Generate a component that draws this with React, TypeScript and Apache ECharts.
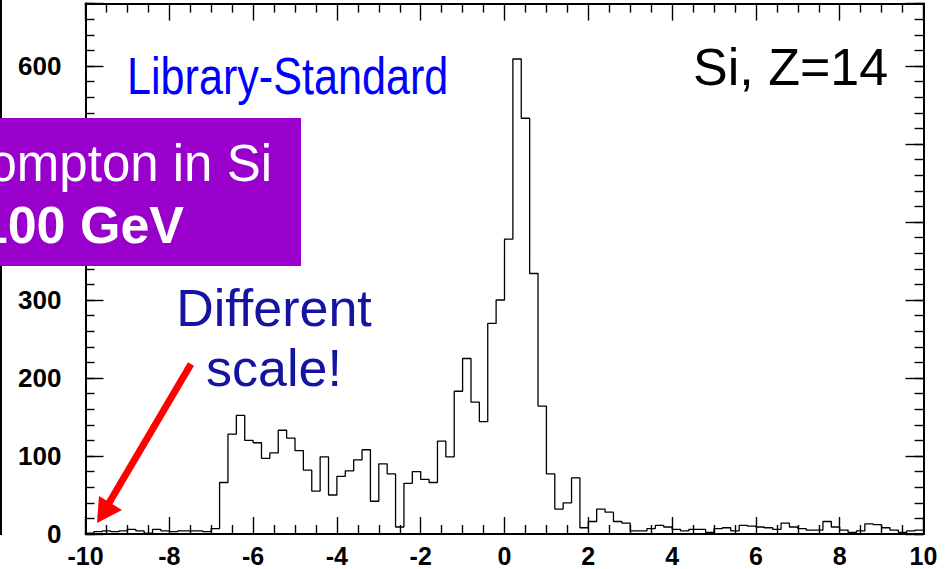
import React, { useEffect, useRef } from "react";
import * as echarts from "echarts";

// Histogram: 100 bins of width 0.2 from -10 to 10
const X_MIN = -10;
const X_MAX = 10;
const BIN_WIDTH = 0.2;
const binCounts = [
  1, 3, 4, 3, 4, 6, 4, 1, 6, 4, 3, 4, 4, 4, 3,
  7, 66, 128, 152, 120, 117, 97, 104, 133, 123,
  107, 82, 55, 99, 50, 74, 81, 95, 108, 42,
  90, 77, 9, 65, 80, 70, 66, 119, 99, 183,
  225, 169, 144, 270, 300, 378, 609, 533, 334, 164,
  77, 32, 40, 72, 8, 16, 32, 28, 16, 14,
  4, 4, 7, 11, 9, 6, 4, 6, 6, 2,
  7, 8, 4, 11, 10, 9, 8, 6, 14, 9,
  7, 5, 5, 16, 9, 5, 2, 4, 13, 12,
  8, 5, 2, 4, 5,
];
const binLowEdges = binCounts.map((_, i) => +(X_MIN + i * BIN_WIDTH).toFixed(2));

const Y_MIN = 0;
const Y_MAX = 680;
const Y_MAJOR = 100;
const Y_MINOR = 20;
const X_MAJOR = 2;
// y tick labels hidden behind the purple box in the reference
const yLabelsCovered = [400, 500];

const titleText = "Library-Standard";
const elementText = "Si, Z=14";
const noteLines = ["Different", "scale!"];
const boxLines = ["ompton in Si", "100 GeV"];

const FONT = "'Liberation Sans', Arial, Helvetica, sans-serif";

export default function App() {
  const ref = useRef<HTMLDivElement>(null);

  useEffect(() => {
    if (!ref.current) return;
    const chart = echarts.init(ref.current, undefined, { renderer: "svg" });

    const stepData: [number, number][] = binLowEdges.map((x, i) => [x, binCounts[i]]);
    stepData.push([X_MAX, binCounts[binCounts.length - 1]]);

    const axisLineStyle = { color: "#000", width: 2 };
    const tickStyle = { color: "#000", width: 1.4 };

    const xAxisBase = {
      type: "value" as const,
      min: X_MIN,
      max: X_MAX,
      interval: X_MAJOR,
      splitLine: { show: false },
      axisLine: { show: true, onZero: false, lineStyle: axisLineStyle },
      axisTick: { show: true, inside: true, length: 17, lineStyle: tickStyle },
      minorTick: { show: true, splitNumber: 4, length: 9, lineStyle: tickStyle },
      minorSplitLine: { show: false },
    };

    const yMajor = (position: "left" | "right", labels: boolean) => ({
      type: "value" as const,
      position,
      min: Y_MIN,
      max: Y_MAX,
      interval: Y_MAJOR,
      splitLine: { show: false },
      axisLine: { show: true, onZero: false, lineStyle: axisLineStyle },
      axisTick: { show: true, inside: true, length: 18, lineStyle: tickStyle },
      axisLabel: labels
        ? {
            show: true,
            margin: 24,
            fontSize: 26,
            fontWeight: "bold",
            fontFamily: FONT,
            color: "#000",
            formatter: (v: number) =>
              v % Y_MAJOR === 0 && !yLabelsCovered.includes(v) ? String(v) : "",
          }
        : { show: false },
    });
    const yMinor = (position: "left" | "right") => ({
      type: "value" as const,
      position,
      min: Y_MIN,
      max: Y_MAX,
      interval: Y_MINOR,
      splitLine: { show: false },
      axisLine: { show: false, onZero: false },
      axisTick: { show: true, inside: true, length: 9, lineStyle: tickStyle },
      axisLabel: { show: false },
    });

    chart.setOption({
      animation: false,
      backgroundColor: "#fff",
      grid: { left: 85.5, top: 3.6, width: 838, height: 530.4, containLabel: false },
      xAxis: [
        {
          ...xAxisBase,
          position: "bottom",
          axisLabel: {
            show: true,
            margin: 9,
            fontSize: 25,
            fontWeight: "bold",
            fontFamily: FONT,
            color: "#000",
          },
        },
        { ...xAxisBase, position: "top", axisLabel: { show: false } },
      ],
      yAxis: [yMajor("left", true), yMinor("left"), yMajor("right", false), yMinor("right")],
      series: [
        {
          type: "line",
          xAxisIndex: 0,
          yAxisIndex: 0,
          step: "end",
          data: stepData,
          symbol: "none",
          lineStyle: { color: "#000", width: 1.3 },
        },
      ],
      graphic: [
        {
          type: "text",
          x: 127,
          y: 76,
          scaleX: 0.83,
          z: 50,
          style: {
            text: titleText,
            fill: "#0000ff",
            font: `52px ${FONT}`,
            textAlign: "left",
            textVerticalAlign: "middle",
          },
        },
        {
          type: "text",
          x: 693,
          y: 67,
          z: 50,
          style: {
            text: elementText,
            fill: "#000",
            font: `52px ${FONT}`,
            textAlign: "left",
            textVerticalAlign: "middle",
          },
        },
        {
          type: "text",
          x: 274,
          y: 308,
          z: 50,
          style: {
            text: noteLines[0],
            fill: "#1414a0",
            font: `52px ${FONT}`,
            textAlign: "center",
            textVerticalAlign: "middle",
          },
        },
        {
          type: "text",
          x: 274,
          y: 368,
          z: 50,
          style: {
            text: noteLines[1],
            fill: "#1414a0",
            font: `52px ${FONT}`,
            textAlign: "center",
            textVerticalAlign: "middle",
          },
        },
        {
          type: "line",
          z: 60,
          shape: { x1: 191, y1: 364, x2: 109, y2: 503 },
          style: { stroke: "#ff0000", lineWidth: 7 },
        },
        {
          type: "polygon",
          z: 61,
          shape: { points: [[97, 523], [99, 496], [122, 510]] },
          style: { fill: "#ff0000" },
        },
        {
          type: "rect",
          z: 70,
          shape: { x: -10, y: 118, width: 311, height: 148 },
          style: { fill: "#9900cc" },
        },
        {
          type: "text",
          x: 272,
          y: 163,
          z: 71,
          style: {
            text: boxLines[0],
            fill: "#fff",
            font: `51px ${FONT}`,
            textAlign: "right",
            textVerticalAlign: "middle",
          },
        },
        {
          type: "text",
          x: 184,
          y: 225,
          z: 71,
          style: {
            text: boxLines[1],
            fill: "#fff",
            font: `bold 52px ${FONT}`,
            textAlign: "right",
            textVerticalAlign: "middle",
          },
        },
        {
          type: "line",
          z: 40,
          shape: { x1: 1, y1: 0, x2: 1, y2: 535 },
          style: { stroke: "#000", lineWidth: 2 },
        },
      ],
    });

    return () => chart.dispose();
  }, []);

  return (
    <div
      ref={ref}
      style={{ position: "fixed", left: 0, top: 0, width: 945, height: 569, background: "#fff" }}
    />
  );
}
